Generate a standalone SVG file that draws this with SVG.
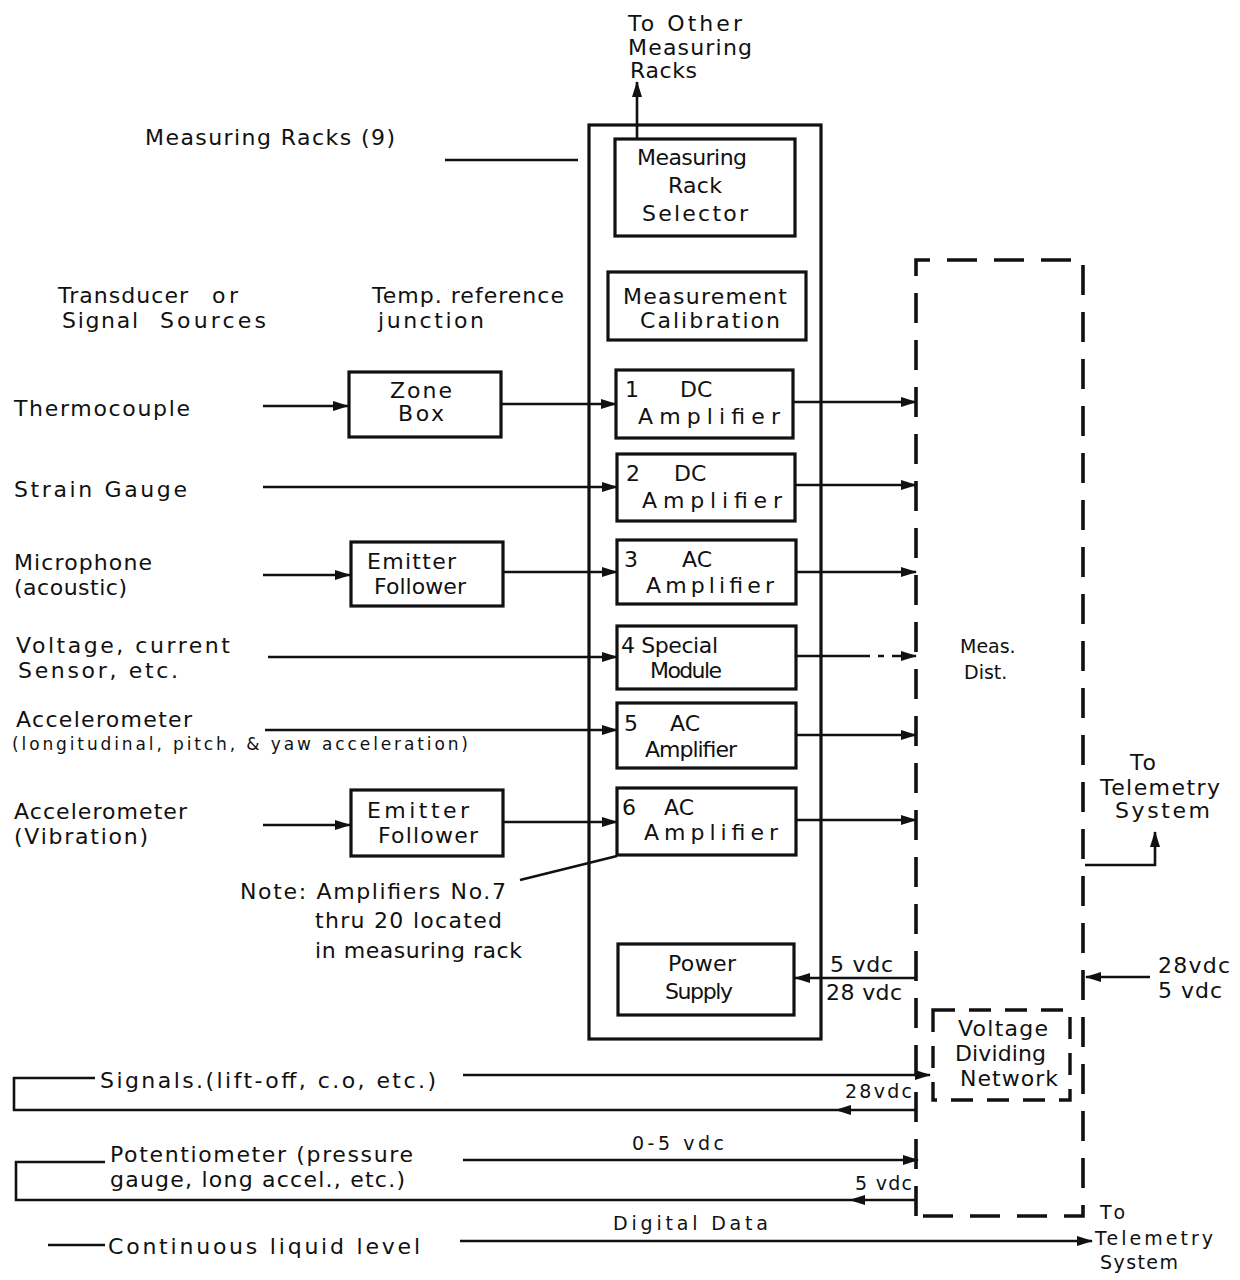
<svg xmlns="http://www.w3.org/2000/svg" width="1240" height="1280" viewBox="0 0 1240 1280">
<style>
text{font-family:"DejaVu Sans","Liberation Sans",sans-serif;font-size:22px;fill:#111}
.sm{font-size:19px}
.xs{font-size:17px}
.box{fill:none;stroke:#111;stroke-width:3.2}
.ln{fill:none;stroke:#111;stroke-width:2.6}
.arr{marker-end:url(#ah)}
.dash{fill:none;stroke:#111;stroke-width:3.6;stroke-dasharray:30 17}
.dash2{fill:none;stroke:#111;stroke-width:3.4;stroke-dasharray:22 14}
</style>
<defs>
<marker id="ah" markerUnits="userSpaceOnUse" markerWidth="16" markerHeight="12" refX="15" refY="6" orient="auto">
<path d="M0,1 L16,6 L0,11 Z" fill="#111"/>
</marker>
</defs>
<rect width="1240" height="1280" fill="#fff"/>

<g id="header-labels">
<text x="628" y="31" textLength="114">To Other</text>
<text x="628" y="55" textLength="124">Measuring</text>
<text x="630" y="78" textLength="67">Racks</text>
<text x="145" y="145" textLength="250">Measuring Racks (9)</text>
<text x="58" y="303" textLength="130">Transducer</text>
<text x="212" y="303" textLength="26">or</text>
<text x="62" y="328" textLength="76">Signal</text>
<text x="160" y="328" textLength="106">Sources</text>
<text x="372" y="303" textLength="192">Temp. reference</text>
<text x="378" y="328" textLength="106">junction</text>
</g>

<g id="rack"><rect class="box" x="589" y="125" width="232" height="914"/></g>

<g id="selector">
<rect class="box" x="615" y="139" width="180" height="97"/>
<text x="637" y="165" textLength="110">Measuring</text>
<text x="668" y="193" textLength="54">Rack</text>
<text x="642" y="221" textLength="106">Selector</text>
</g>

<g id="calibration">
<rect class="box" x="608" y="272" width="198" height="68"/>
<text x="623" y="304" textLength="164">Measurement</text>
<text x="640" y="328" textLength="140">Calibration</text>
</g>

<g id="amp1"><rect class="box" x="616" y="370" width="177" height="68"/>
<text x="625" y="397">1</text><text x="680" y="397">DC</text><text x="638" y="424" textLength="142">Amplifier</text></g>
<g id="amp2"><rect class="box" x="617" y="454" width="178" height="67"/>
<text x="626" y="481">2</text><text x="674" y="481">DC</text><text x="642" y="508" textLength="140">Amplifier</text></g>
<g id="amp3"><rect class="box" x="617" y="540" width="179" height="64"/>
<text x="624" y="567">3</text><text x="682" y="567">AC</text><text x="646" y="593" textLength="128">Amplifier</text></g>
<g id="amp4"><rect class="box" x="617" y="626" width="179" height="63"/>
<text x="621" y="653" textLength="97">4 Special</text><text x="650" y="678" textLength="72">Module</text></g>
<g id="amp5"><rect class="box" x="617" y="703" width="179" height="65"/>
<text x="624" y="731">5</text><text x="670" y="731">AC</text><text x="645" y="757" textLength="92">Amplifier</text></g>
<g id="amp6"><rect class="box" x="617" y="788" width="179" height="67"/>
<text x="622" y="815">6</text><text x="664" y="815">AC</text><text x="644" y="840" textLength="134">Amplifier</text></g>

<g id="power">
<rect class="box" x="618" y="944" width="176" height="71"/>
<text x="668" y="971" textLength="68">Power</text>
<text x="665" y="999" textLength="68">Supply</text>
</g>

<g id="zonebox"><rect class="box" x="349" y="372" width="152" height="65"/>
<text x="390" y="398" textLength="62">Zone</text><text x="398" y="421" textLength="46">Box</text></g>
<g id="emitter1"><rect class="box" x="351" y="542" width="152" height="64"/>
<text x="367" y="569" textLength="89">Emitter</text><text x="374" y="594" textLength="92">Follower</text></g>
<g id="emitter2"><rect class="box" x="351" y="790" width="152" height="66"/>
<text x="367" y="818" textLength="102">Emitter</text><text x="378" y="843" textLength="100">Follower</text></g>

<g id="sources">
<text x="14" y="416" textLength="176">Thermocouple</text>
<text x="14" y="497" textLength="173">Strain Gauge</text>
<text x="14" y="570" textLength="138">Microphone</text>
<text x="14" y="595" textLength="113">(acoustic)</text>
<text x="16" y="653" textLength="214">Voltage, current</text>
<text x="18" y="678" textLength="160">Sensor, etc.</text>
<text x="16" y="727" textLength="176">Accelerometer</text>
<text class="xs" x="12" y="750" textLength="456">(longitudinal, pitch, &amp; yaw acceleration)</text>
<text x="14" y="819" textLength="173">Accelerometer</text>
<text x="14" y="844" textLength="134">(Vibration)</text>
</g>

<g id="note">
<text x="240" y="899" textLength="266">Note: Amplifiers No.7</text>
<text x="315" y="928" textLength="187">thru 20 located</text>
<text x="315" y="958" textLength="207">in measuring rack</text>
</g>

<g id="measdist">
<path class="dash" d="M916 1216 V260 H1083 V1216 H916"/>
<text class="sm" x="960" y="653">Meas.</text>
<text class="sm" x="964" y="679">Dist.</text>
</g>

<g id="vdn">
<rect class="dash2" x="933" y="1010" width="137" height="90"/>
<text x="958" y="1036" textLength="90">Voltage</text>
<text x="955" y="1061" textLength="91">Dividing</text>
<text x="960" y="1086" textLength="98">Network</text>
</g>

<g id="bottom-labels">
<text x="1130" y="770" textLength="26">To</text>
<text x="1100" y="795" textLength="120">Telemetry</text>
<text x="1115" y="818" textLength="95">System</text>
<text x="1158" y="973" textLength="72">28vdc</text>
<text x="1158" y="998" textLength="64">5 vdc</text>
<text x="830" y="972" textLength="63">5 vdc</text>
<text x="826" y="1000" textLength="76">28 vdc</text>
<text x="100" y="1088" textLength="336">Signals.(lift-off, c.o, etc.)</text>
<text class="sm" x="845" y="1098" textLength="67">28vdc</text>
<text x="110" y="1162" textLength="303">Potentiometer (pressure</text>
<text x="110" y="1187" textLength="295">gauge, long accel., etc.)</text>
<text class="sm" x="632" y="1150" textLength="92">0-5 vdc</text>
<text class="sm" x="855" y="1190" textLength="57">5 vdc</text>
<text x="108" y="1254" textLength="312">Continuous liquid level</text>
<text class="sm" x="613" y="1230" textLength="155">Digital Data</text>
<text class="sm" x="1100" y="1219" textLength="25">To</text>
<text class="sm" x="1095" y="1245" textLength="118">Telemetry</text>
<text class="sm" x="1100" y="1269" textLength="78">System</text>
</g>

<g id="connectors">
<path class="ln arr" d="M637 139 V82"/>
<path class="ln" d="M445 160 H578"/>
<path class="ln arr" d="M263 406 H348"/>
<path class="ln arr" d="M501 404 H616"/>
<path class="ln arr" d="M263 487 H617"/>
<path class="ln arr" d="M263 575 H350"/>
<path class="ln arr" d="M503 572 H617"/>
<path class="ln arr" d="M268 657 H617"/>
<path class="ln arr" d="M265 730 H617"/>
<path class="ln arr" d="M263 825 H350"/>
<path class="ln arr" d="M503 822 H617"/>
<path class="ln arr" d="M793 402 H916"/>
<path class="ln arr" d="M795 485 H916"/>
<path class="ln arr" d="M796 572 H916"/>
<path class="ln arr" d="M796 656 H916" stroke-dasharray="74 8 6 8 60"/>
<path class="ln arr" d="M796 735 H916"/>
<path class="ln arr" d="M796 820 H916"/>
<path class="ln" d="M520 880 L617 856"/>
<path class="ln arr" d="M916 978 H795"/>
<path class="ln arr" d="M1085 865 H1155 V832"/>
<path class="ln arr" d="M1150 977 H1086"/>
<path class="ln arr" d="M463 1075 H930"/>
<path class="ln arr" d="M916 1110 H836"/>
<path class="ln" d="M836 1110 H14 V1078 H95"/>
<path class="ln arr" d="M463 1160 H918"/>
<path class="ln arr" d="M916 1200 H850"/>
<path class="ln" d="M850 1200 H16 V1162 H105"/>
<path class="ln" d="M48 1245 H105"/>
<path class="ln arr" d="M460 1241 H1092"/>
</g>
</svg>
